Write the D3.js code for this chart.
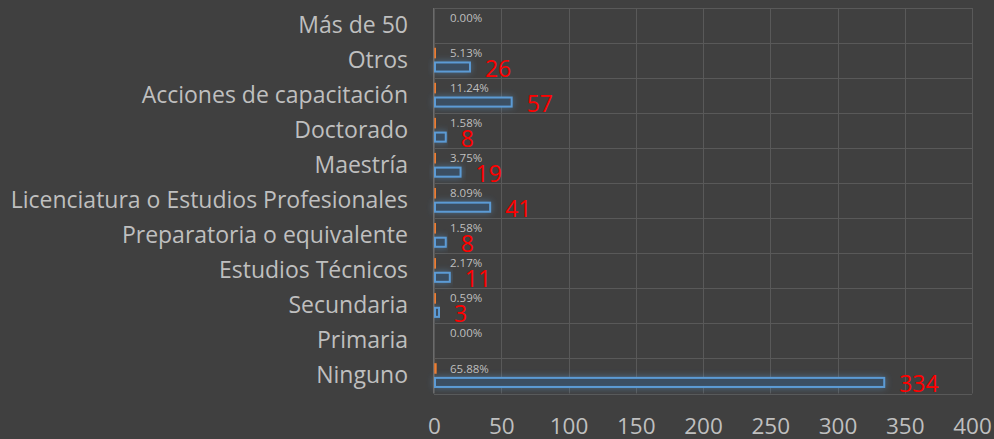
<!DOCTYPE html>
<html>
<head>
<meta charset="utf-8">
<script src="https://cdn.jsdelivr.net/npm/d3@7"></script>
<style>
  html, body { margin: 0; padding: 0; background: #404040; }
  svg { display: block; }
</style>
</head>
<body>
<script>
// categories, top to bottom as drawn
const categories = [
  'Más de 50', 'Otros', 'Acciones de capacitación', 'Doctorado', 'Maestría',
  'Licenciatura o Estudios Profesionales', 'Preparatoria o equivalente',
  'Estudios Técnicos', 'Secundaria', 'Primaria', 'Ninguno'
];
const counts  = [0, 26, 57, 8, 19, 41, 8, 11, 3, 0, 334];
const percent = [0, 0.0513, 0.1124, 0.0158, 0.0375, 0.0809, 0.0158, 0.0217, 0.0059, 0, 0.6588];
const xTicks  = [0, 50, 100, 150, 200, 250, 300, 350, 400];

const W = 994, H = 439;
const font = '"Open Sans", sans-serif';

const svg = d3.select('body').append('svg')
  .attr('width', W)
  .attr('height', H);

svg.append('rect').attr('width', W).attr('height', H).attr('fill', '#404040');

const defs = svg.append('defs');
function glow(id, color) {
  const f = defs.append('filter').attr('id', id)
    .attr('x', '-20%').attr('y', '-150%').attr('width', '140%').attr('height', '400%');
  f.append('feGaussianBlur').attr('in', 'SourceAlpha').attr('stdDeviation', 3.5).attr('result', 'b');
  f.append('feFlood').attr('flood-color', color).attr('flood-opacity', 0.5);
  f.append('feComposite').attr('in2', 'b').attr('operator', 'in').attr('result', 'g');
  const m = f.append('feMerge');
  m.append('feMergeNode').attr('in', 'g');
  m.append('feMergeNode').attr('in', 'SourceGraphic');
}
glow('glowBlue', '#5b9bd5');
glow('glowOrange', '#ed7d31');

const x = d3.scaleLinear().domain([0, 400]).range([434, 972]);
const y = d3.scaleBand().domain(categories).range([8, 393.5]);
const sub = d3.scaleBand().domain(['pct', 'n']).range([5.5, 28.5]).paddingInner(0.35);

// grid
const grid = svg.append('g').attr('stroke', '#595959').attr('stroke-width', 1);
grid.selectAll('.v').data(xTicks).enter().append('line')
  .attr('x1', d => Math.round(x(d)) + 0.5).attr('x2', d => Math.round(x(d)) + 0.5)
  .attr('y1', y.range()[0]).attr('y2', y.range()[1]);
const hLines = categories.map(c => y(c)).concat([y.range()[1]]);
grid.selectAll('.h').data(hLines).enter().append('line')
  .attr('x1', x(0)).attr('x2', x(400))
  .attr('y1', d => Math.round(d) + 0.5).attr('y2', d => Math.round(d) + 0.5);

const rows = categories.map((c, i) => ({ c, n: counts[i], p: percent[i] }));

// orange (percentage) series
svg.append('g').selectAll('rect').data(rows.filter(d => d.p > 0)).enter().append('rect')
  .attr('x', x(0) + 1)
  .attr('y', d => y(d.c) + sub('pct'))
  .attr('width', d => Math.max(0.5, x(d.p) - x(0)))
  .attr('height', sub.bandwidth())
  .attr('fill', '#ed7d31')
  .attr('stroke', '#ed7d31')
  .attr('stroke-width', 1.5)
  .attr('filter', 'url(#glowOrange)');

// blue (count) series
svg.append('g').selectAll('rect').data(rows.filter(d => d.n > 0)).enter().append('rect')
  .attr('x', x(0) + 1)
  .attr('y', d => y(d.c) + sub('n'))
  .attr('width', d => x(d.n) - x(0))
  .attr('height', sub.bandwidth())
  .attr('fill', '#3b4f64')
  .attr('stroke', '#5b9bd5')
  .attr('stroke-width', 2)
  .attr('filter', 'url(#glowBlue)');

// percentage labels
svg.append('g').selectAll('text').data(rows).enter().append('text')
  .attr('x', x(0) + 16)
  .attr('y', d => y(d.c) + sub('pct') + sub.bandwidth() / 2)
  .attr('dy', '0.35em')
  .attr('font-family', font)
  .attr('font-size', 11.5)
  .attr('fill', '#bfbfbf')
  .text(d => (d.p * 100).toFixed(2) + '%');

// count labels
svg.append('g').selectAll('text').data(rows.filter(d => d.n > 0)).enter().append('text')
  .attr('x', d => x(d.n) + 16)
  .attr('y', d => y(d.c) + sub('n') + sub.bandwidth() / 2 + 1.5)
  .attr('dy', '0.35em')
  .attr('font-family', font)
  .attr('font-size', 23)
  .attr('fill', '#ff0000')
  .text(d => d.n);

// category axis
const yAxis = svg.append('g')
  .attr('transform', 'translate(408,0)')
  .call(d3.axisLeft(y).tickSize(0).tickPadding(0));
yAxis.select('.domain').remove();
yAxis.selectAll('text')
  .attr('font-family', font)
  .attr('font-size', 23)
  .attr('fill', '#bfbfbf');

// value axis
const xAxis = svg.append('g')
  .attr('transform', 'translate(0,426)')
  .call(d3.axisBottom(x).tickValues(xTicks).tickSize(0).tickPadding(0));
xAxis.select('.domain').remove();
xAxis.selectAll('text')
  .attr('dy', '0.35em')
  .attr('font-family', font)
  .attr('font-size', 22.5)
  .attr('fill', '#bfbfbf');

// left axis line
svg.append('line')
  .attr('x1', x(0) - 0.5).attr('x2', x(0) - 0.5)
  .attr('y1', y.range()[0]).attr('y2', y.range()[1])
  .attr('stroke', '#6b6b6b');
</script>
</body>
</html>
